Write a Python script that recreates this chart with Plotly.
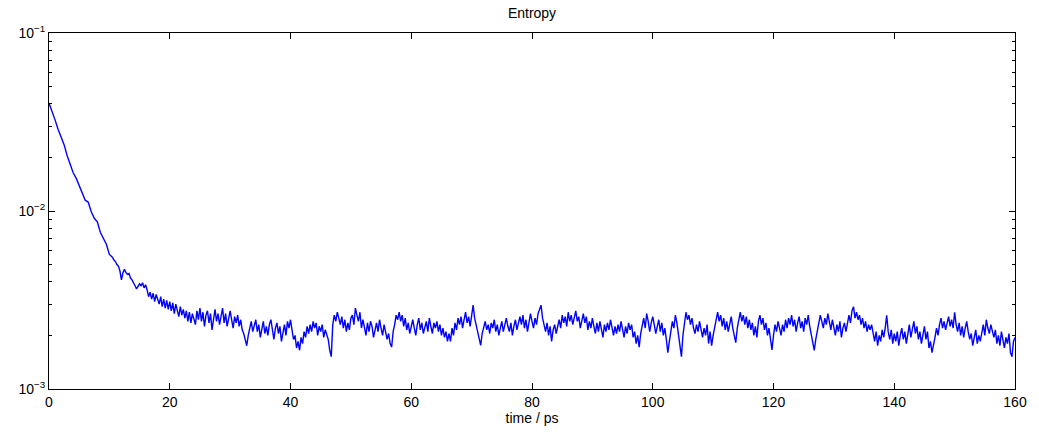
import numpy as np
import plotly.graph_objects as go

# Entropy values (units of 1e-3)
# part A: t = 0 .. 10 ps, step 0.5 ps
entropy_early = [40.4, 36.5, 32.5, 28.8, 26.0, 23.6, 20.5, 18.4, 16.4, 15.3, 14.0,
                 12.6, 11.5, 11.2, 9.9, 9.1, 8.7, 7.6, 7.0, 6.5, 5.7]
# part B: t = 10.25 .. 160 ps, step 0.25 ps
entropy_late = [
    5.6, 5.5, 5.3, 5.2, 5.0, 4.9, 4.6, 4.1,
    4.5, 4.7, 4.5, 4.4, 4.45, 4.2, 4.1, 3.9,
    3.8, 3.65, 3.75, 3.9, 3.8, 3.95, 3.7, 3.85,
    3.6, 3.3, 3.5, 3.2, 3.45, 3.1, 3.4, 3.2,
    3.0, 3.3, 2.9, 3.2, 2.85, 3.15, 2.8, 3.1,
    2.75, 3.05, 2.65, 3.0, 2.7, 2.55, 2.9, 2.6,
    2.8, 2.5, 2.75, 2.4, 2.7, 2.35, 2.65, 2.45,
    2.3, 2.75, 2.45, 2.85, 2.4, 2.7, 2.25, 2.6,
    2.75, 2.35, 2.65, 2.15, 2.55, 2.8, 2.4, 2.65,
    2.3, 2.6, 2.85, 2.35, 2.65, 2.25, 2.55, 2.75,
    2.45, 2.2, 2.55, 2.35, 2.6, 2.25, 2.45, 2.15,
    2.05, 1.9, 1.75, 2.0, 2.2, 2.4, 2.1, 2.3,
    2.45, 2.1, 2.3, 1.95, 2.2, 2.4, 2.05, 2.25,
    2.0, 2.3, 2.45, 2.15, 1.9, 2.2, 2.35, 2.05,
    2.25, 1.85, 2.1, 2.3, 2.0, 2.4, 2.2, 2.45,
    2.15, 1.9, 2.0, 1.7, 1.85, 1.65, 1.95, 1.8,
    2.1, 1.95, 2.25, 2.05, 2.3, 2.1, 2.4, 2.2,
    2.35, 2.0, 2.25, 2.1, 2.3, 1.95, 2.15, 2.0,
    1.9, 1.65, 1.52, 2.3, 2.6, 2.4, 2.7, 2.5,
    2.3, 2.55, 2.2, 2.45, 2.1, 2.35, 2.15, 2.5,
    2.6, 2.3, 2.85, 2.6, 2.4, 2.7, 2.2, 2.45,
    2.2, 2.0, 2.35, 2.1, 2.4, 2.25, 1.95, 2.2,
    2.35, 2.1, 2.45, 2.2, 2.0, 2.3, 2.1, 1.9,
    2.05, 1.8, 1.72, 2.1, 2.3, 2.6, 2.45, 2.7,
    2.4, 2.6, 2.25, 2.5, 2.15, 2.35, 2.05, 2.3,
    2.45, 2.2, 2.0, 2.3, 2.5, 2.15, 2.35, 2.05,
    2.25, 2.4, 2.1, 2.5, 2.25, 2.05, 2.35, 2.2,
    2.4, 2.1, 2.3, 2.0, 2.2, 1.95, 2.1, 1.85,
    2.05, 1.85, 2.2, 2.0, 2.35, 2.15, 2.5, 2.3,
    2.55, 2.2, 2.45, 2.7, 2.35, 2.55, 2.25, 2.6,
    2.96, 2.5, 2.3, 2.1, 1.95, 1.76, 2.05, 2.2,
    2.4, 2.15, 2.3, 2.05, 2.35, 2.2, 2.45, 2.1,
    2.3, 2.0, 2.2, 2.4, 2.1, 2.35, 2.5, 2.25,
    2.1, 2.35, 2.0, 2.25, 2.45, 2.15, 2.35, 2.55,
    2.3, 2.6, 2.2, 2.45, 2.1, 2.35, 2.65, 2.4,
    2.2, 2.5, 2.3, 2.65, 2.85, 2.96, 2.5, 2.3,
    2.1, 2.35, 2.0, 2.25, 1.85, 2.15, 2.3, 2.05,
    2.25, 2.45, 2.2, 2.6, 2.35, 2.55, 2.25, 2.7,
    2.4, 2.6, 2.3, 2.5, 2.75, 2.4, 2.55, 2.2,
    2.45, 2.65, 2.35, 2.55, 2.15, 2.4, 2.2, 2.5,
    2.25, 2.05, 2.35, 2.1, 2.4, 2.2, 1.95, 2.3,
    2.1, 2.35, 2.15, 2.45, 2.2, 2.0, 2.25, 2.05,
    2.3, 2.1, 2.4, 2.2, 1.95, 2.25, 2.05, 2.35,
    2.15, 2.3, 1.95, 2.1, 1.8, 2.0, 1.72, 2.05,
    2.3, 2.5, 2.2, 2.65, 2.4, 2.1, 2.35, 2.55,
    2.3, 2.05, 2.25, 2.45, 2.1, 2.35, 2.0, 2.2,
    1.9, 1.6, 1.85, 2.1, 2.4, 2.2, 2.6, 2.35,
    2.05, 1.75, 1.52, 2.0, 2.4, 2.7, 2.45, 2.6,
    2.3, 2.5, 2.2, 2.05, 2.3, 2.1, 2.4, 2.15,
    1.95, 2.2, 2.0, 2.3, 1.8, 2.1, 1.75, 2.0,
    2.25, 2.5, 2.7, 2.4, 2.6, 2.25, 2.5, 2.15,
    2.4, 2.1, 2.35, 2.55, 2.2, 2.0, 1.82, 2.2,
    2.5, 2.7, 2.4, 2.6, 2.3, 2.55, 2.2, 2.45,
    2.15, 2.35, 2.0, 2.25, 1.95, 2.4, 2.6, 2.3,
    2.5, 2.15, 2.35, 2.0, 2.2, 1.85, 1.66, 2.0,
    2.3, 2.1, 2.4, 2.2, 2.0, 2.3, 2.1, 2.45,
    2.2, 2.5, 2.3, 2.6, 2.25, 2.45, 2.1, 2.35,
    2.55, 2.2, 2.4, 2.1, 2.5, 2.3, 2.6, 2.25,
    2.0, 1.8, 1.65, 1.9, 2.1, 2.35, 2.6, 2.4,
    2.2, 2.5, 2.3, 2.65, 2.4, 2.15, 2.45, 2.25,
    2.0, 2.3, 2.1, 2.4, 1.95, 2.2, 2.35, 2.1,
    2.4, 2.6, 2.35, 2.75, 2.9, 2.5, 2.7, 2.45,
    2.6, 2.3, 2.5, 2.2, 2.4, 2.1, 2.3, 2.15,
    2.3, 2.0, 1.85, 2.1, 1.75, 2.0, 1.85, 2.15,
    1.95, 2.2, 2.59, 2.1, 1.9, 2.15, 1.8, 2.05,
    1.85, 2.1, 1.75, 2.0, 2.2, 1.9, 2.1, 1.8,
    2.05, 2.3, 1.95, 2.2, 2.4, 2.05, 2.25, 1.9,
    2.1, 1.8, 2.0, 2.25, 1.9, 2.1, 1.7, 1.85,
    1.6, 1.75, 1.95, 2.2, 2.0, 2.3, 2.5, 2.2,
    2.4, 2.15, 2.35, 2.55, 2.25, 2.45, 2.2, 2.7,
    2.3, 2.1, 2.35, 2.0, 2.25, 1.95, 2.2, 2.4,
    2.1, 1.9, 2.05, 1.75, 1.95, 2.15, 1.8, 2.0,
    1.85, 2.1, 2.3, 2.0, 2.45, 2.2, 2.05, 2.3,
    2.1, 1.95, 2.15, 1.8, 2.0, 1.75, 2.1, 1.9,
    1.7, 1.95, 1.8, 2.05, 1.6, 1.52, 1.85, 1.95,
]

time_early = [0.5 * i for i in range(len(entropy_early))]
time_late = [10 + 0.25 * (i + 1) for i in range(len(entropy_late))]
time_ps = time_early + time_late
entropy = [v * 1e-3 for v in entropy_early + entropy_late]

x_ticks = [0, 20, 40, 60, 80, 100, 120, 140, 160]
y_ticks = [1e-3, 1e-2, 1e-1]
y_ticktext = ["10<sup>−3</sup>", "10<sup>−2</sup>", "10<sup>−1</sup>"]
y_minor = [m * d for d in (1e-3, 1e-2) for m in range(2, 10)]

fig = go.Figure()
fig.add_trace(go.Scatter(x=time_ps, y=entropy, mode="lines",
                         line=dict(color="#0000ff", width=1.4), showlegend=False))

axis_common = dict(showline=True, linecolor="black", linewidth=1, mirror="ticks",
                   ticks="inside", tickcolor="black", showgrid=False, zeroline=False,
                   tickfont=dict(size=14, color="black"))

fig.update_xaxes(range=[0, 160], tickvals=x_ticks, ticklen=6,
                 title=dict(text="time / ps", font=dict(size=14, color="black"), standoff=4),
                 **axis_common)
fig.update_yaxes(type="log", range=[-3, -1], tickvals=y_ticks, ticktext=y_ticktext, ticklen=6,
                 minor=dict(tickvals=y_minor, ticks="inside", ticklen=3, tickcolor="black"),
                 **axis_common)

fig.update_layout(
    width=1039, height=441,
    margin=dict(l=49, r=22, t=33, b=52),
    paper_bgcolor="white", plot_bgcolor="white",
    font=dict(family="Liberation Sans, Arial, sans-serif", size=14, color="black"),
    title=dict(text="Entropy", x=0.5, xref="paper", y=1 - 13 / 441, yref="container",
               yanchor="middle", font=dict(size=14, color="black")),
)

fig.write_html("out.html")
